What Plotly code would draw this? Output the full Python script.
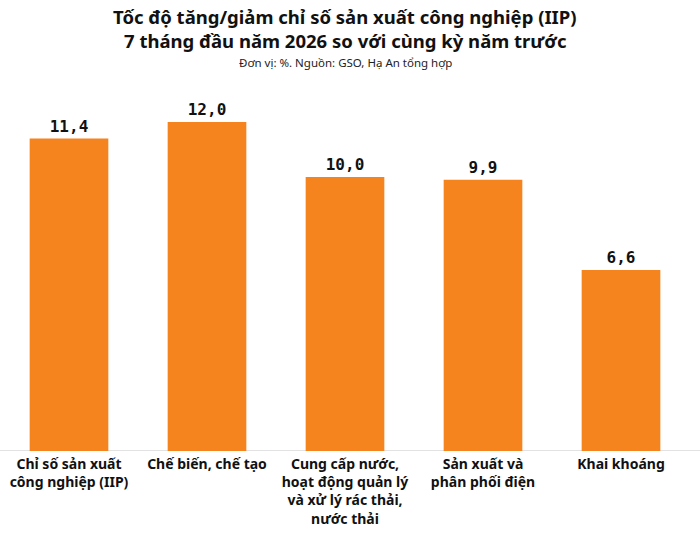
import plotly.graph_objects as go

# data
categories = [
    "Chỉ số sản xuất<br>công nghiệp (IIP)",
    "Chế biến, chế tạo",
    "Cung cấp nước,<br>hoạt động quản lý<br>và xử lý rác thải,<br>nước thải",
    "Sản xuất và<br>phân phối điện",
    "Khai khoáng",
]
values = [11.4, 12.0, 10.0, 9.9, 6.6]
value_labels = ["11,4", "12,0", "10,0", "9,9", "6,6"]

title_line1 = "Tốc độ tăng/giảm chỉ số sản xuất công nghiệp (IIP)"
title_line2 = "7 tháng đầu năm 2026 so với cùng kỳ năm trước"
subtitle = "Đơn vị: %. Nguồn: GSO, Hạ An tổng hợp"

fig = go.Figure()
fig.add_trace(go.Bar(
    x=categories,
    y=values,
    text=value_labels,
    textposition="outside",
    textfont=dict(family="DejaVu Sans Mono", size=16, color="#111111", weight="bold"),
    marker=dict(color="#F5841F", line=dict(width=0)),
    cliponaxis=False,
    hoverinfo="skip",
))

title_font = dict(family="Noto Sans", size=18.5, color="#111111")

fig.update_layout(
    width=700, height=535,
    margin=dict(l=0, r=10, t=90, b=84, autoexpand=False),
    paper_bgcolor="white",
    plot_bgcolor="white",
    bargap=0.43,
    showlegend=False,
    annotations=[
        dict(text=f"<b>{title_line1}</b>", xref="paper", yref="paper",
             x=0.5, y=1.0, xanchor="center", yanchor="middle", yshift=74,
             showarrow=False, font=title_font),
        dict(text=f"<b>{title_line2}</b>", xref="paper", yref="paper",
             x=0.5, y=1.0, xanchor="center", yanchor="middle", yshift=50,
             showarrow=False, font=title_font),
        dict(text=subtitle, xref="paper", yref="paper",
             x=0.5, y=1.0, xanchor="center", yanchor="middle", yshift=28,
             showarrow=False,
             font=dict(family="Noto Sans", size=11.5, color="#222222")),
    ],
)
# baseline runs across the full width of the picture
fig.add_shape(type="line", xref="paper", yref="y", x0=0, x1=700 / 690, y0=0, y1=0,
              line=dict(color="#d9d9d9", width=1.5), layer="below")
fig.update_xaxes(
    showline=False,
    tickfont=dict(family="Noto Sans", size=14, color="#111111", weight="bold"),
    ticks="", showgrid=False, automargin=False, ticklabelstandoff=3,
)
fig.update_yaxes(range=[0, 13.17], visible=False, showgrid=False, automargin=False)

# page body has a default 8px margin, drop it so the figure sits at 0,0
fig.write_html("out.html", config={"displayModeBar": False},
               post_script="document.body.style.margin='0';")
